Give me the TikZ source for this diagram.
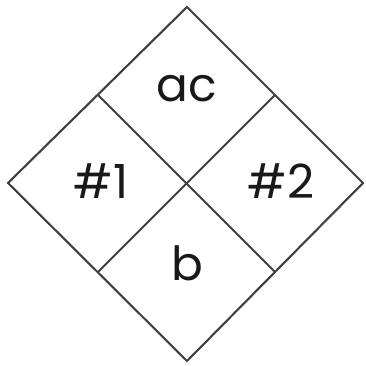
\documentclass[tikz,border=0pt]{standalone}
\usepackage{fontspec}
\setmainfont{Poppins}
\begin{document}
\begin{tikzpicture}[x=1pt,y=-1pt,
  edge/.style={draw=black!75,line width=2.1pt,line join=miter},
  lbl/.style={font=\fontsize{47}{47}\selectfont,text=black!90,inner sep=0pt}]
\useasboundingbox (0,0) rectangle (365,366);
\coordinate (T) at (187,7);
\coordinate (R) at (363,183);
\coordinate (B) at (187,361);
\coordinate (L) at (8,183);
\coordinate (TL) at (98,95);
\coordinate (TR) at (275,95);
\coordinate (BL) at (98,272);
\coordinate (BR) at (275,272);
\draw[edge] (T) -- (R) -- (B) -- (L) -- cycle;
\draw[edge] (TL) -- (BR);
\draw[edge] (TR) -- (BL);
\node[lbl] (ac) at (187,89) {ac};
\node[lbl] (n1) at (101,181) {\#1};
\node[lbl] (n2) at (281,181) {\#2};
\node[lbl] (b) at (187,263) {b};
\end{tikzpicture}
\end{document}
